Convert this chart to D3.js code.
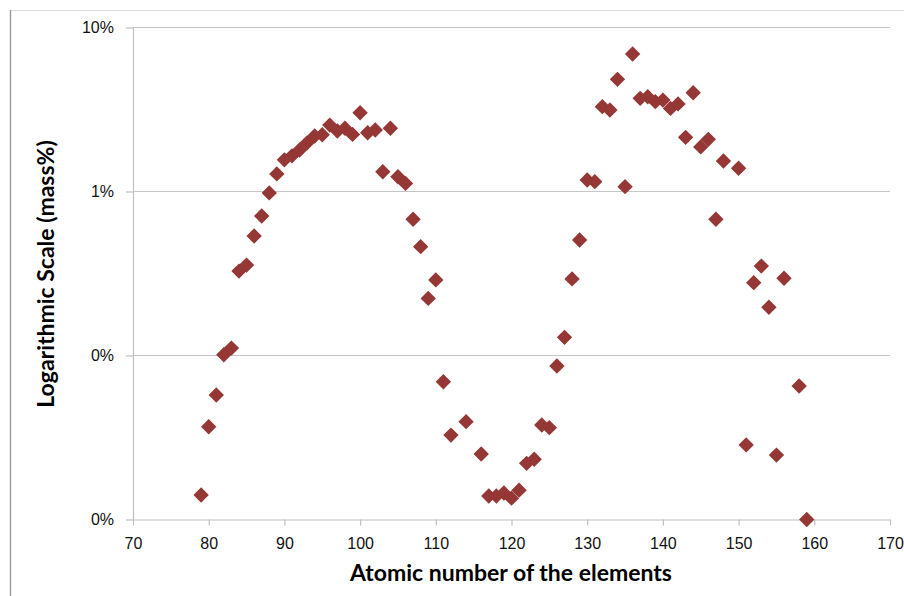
<!DOCTYPE html>
<html lang="en">
<head>
<meta charset="UTF-8">
<title>Logarithmic Scale (mass%)</title>
<script src="https://cdnjs.cloudflare.com/ajax/libs/d3/7.8.5/d3.min.js"></script>
<style>
    body { margin: 0; background: #fff; }
    svg { display: block; font-family: Lato, "Open Sans", sans-serif; }
    .grid line { stroke: #c6c6c6; stroke-width: 1.2px; }
    .axis path, .axis line { stroke: #c0c0c0; stroke-width: 1.2px; }
    .axis text { font-size: 16px; fill: #111; }
    .title { font-size: 23px; font-weight: bold; fill: #000; }
</style>
</head>
<body>
<div id="chart"></div>
<script>
// atomic number of each element plotted
const atomicNumbers = [
    79, 80, 81, 82, 83, 84, 85, 86, 87, 88, 89, 90, 91, 92, 93, 94, 95, 96, 97, 98,
    99, 100, 101, 102, 103, 104, 105, 106, 107, 108, 109, 110, 111, 112, 114, 116,
    117, 118, 119, 120, 121, 122, 123, 124, 125, 126, 127, 128, 129, 130, 131, 132,
    133, 134, 135, 136, 137, 138, 139, 140, 141, 142, 143, 144, 145, 146, 147, 148,
    150, 151, 152, 153, 154, 155, 156, 158, 159
];
// mass %
const massPercent = [
    0.0141, 0.0368, 0.0574, 0.101, 0.111, 0.327, 0.356, 0.535, 0.709, 0.98, 1.28, 1.56, 1.65, 1.79, 1.98, 2.18, 2.22, 2.54, 2.34, 2.43,
    2.23, 3.02, 2.28, 2.37, 1.32, 2.43, 1.23, 1.12, 0.677, 0.461, 0.223, 0.289, 0.0692, 0.0327, 0.0395, 0.0251,
    0.0139, 0.0139, 0.0145, 0.0135, 0.0151, 0.0220, 0.0233, 0.0377, 0.0363, 0.0863, 0.129, 0.293, 0.506, 1.175, 1.148, 3.29,
    3.14, 4.83, 1.07, 6.89, 3.70, 3.78, 3.53, 3.61, 3.21, 3.42, 2.14, 4.00, 1.87, 2.08, 0.677, 1.535,
    1.385, 0.0285, 0.278, 0.351, 0.197, 0.0247, 0.296, 0.0652, 0.0100
];
const xTicks = [70, 80, 90, 100, 110, 120, 130, 140, 150, 160, 170];
const yTicks = [0.01, 0.1, 1, 10];
const yTickLabels = ["0%", "0%", "1%", "10%"];

const points = atomicNumbers.map((z, i) => ({z: z, p: massPercent[i]}));

const width = 904, height = 596;
const margin = {top: 27.5, right: 14, bottom: 76.5, left: 133};

const svg = d3.select("#chart").append("svg")
    .attr("width", width)
    .attr("height", height);

// chart frame edges
svg.append("line").attr("x1", 10).attr("x2", width).attr("y1", 10.5).attr("y2", 10.5)
    .attr("stroke", "#d9d9d9").attr("stroke-width", 1.2);
svg.append("line").attr("x1", 10.5).attr("x2", 10.5).attr("y1", 10).attr("y2", height)
    .attr("stroke", "#9a9a9a").attr("stroke-width", 1.4);

const x = d3.scaleLinear().domain([70, 170]).range([margin.left, width - margin.right]);
const y = d3.scaleLog().domain([0.01, 10]).range([height - margin.bottom, margin.top]);

// horizontal gridlines
svg.append("g").attr("class", "grid")
    .selectAll("line")
    .data(yTicks.slice(1))
    .join("line")
    .attr("x1", x(70)).attr("x2", x(170))
    .attr("y1", d => y(d)).attr("y2", d => y(d));

const xAxis = svg.append("g").attr("class", "axis")
    .attr("transform", `translate(0,${y(0.01)})`)
    .call(d3.axisBottom(x).tickValues(xTicks).tickSize(6).tickSizeOuter(0).tickPadding(9));
xAxis.selectAll("text").attr("dy", "0.9em");

const yAxis = svg.append("g").attr("class", "axis")
    .attr("transform", `translate(${x(70)},0)`)
    .call(d3.axisLeft(y).tickValues(yTicks).tickFormat((d, i) => yTickLabels[i])
        .tickSize(7).tickSizeOuter(0).tickPadding(12));

// diamonds
const diamond = d3.symbol().type(d3.symbolSquare).size(118);
svg.append("g")
    .selectAll("path")
    .data(points)
    .join("path")
    .attr("d", diamond)
    .attr("transform", d => `translate(${x(d.z)},${y(d.p)}) rotate(45)`)
    .attr("fill", "#953735");

svg.append("text").attr("class", "title")
    .attr("x", 511).attr("y", 581)
    .attr("text-anchor", "middle")
    .text("Atomic number of the elements");

svg.append("text").attr("class", "title")
    .attr("transform", "translate(54,274) rotate(-90)")
    .attr("text-anchor", "middle")
    .text("Logarithmic Scale (mass%)");
</script>
</body>
</html>
